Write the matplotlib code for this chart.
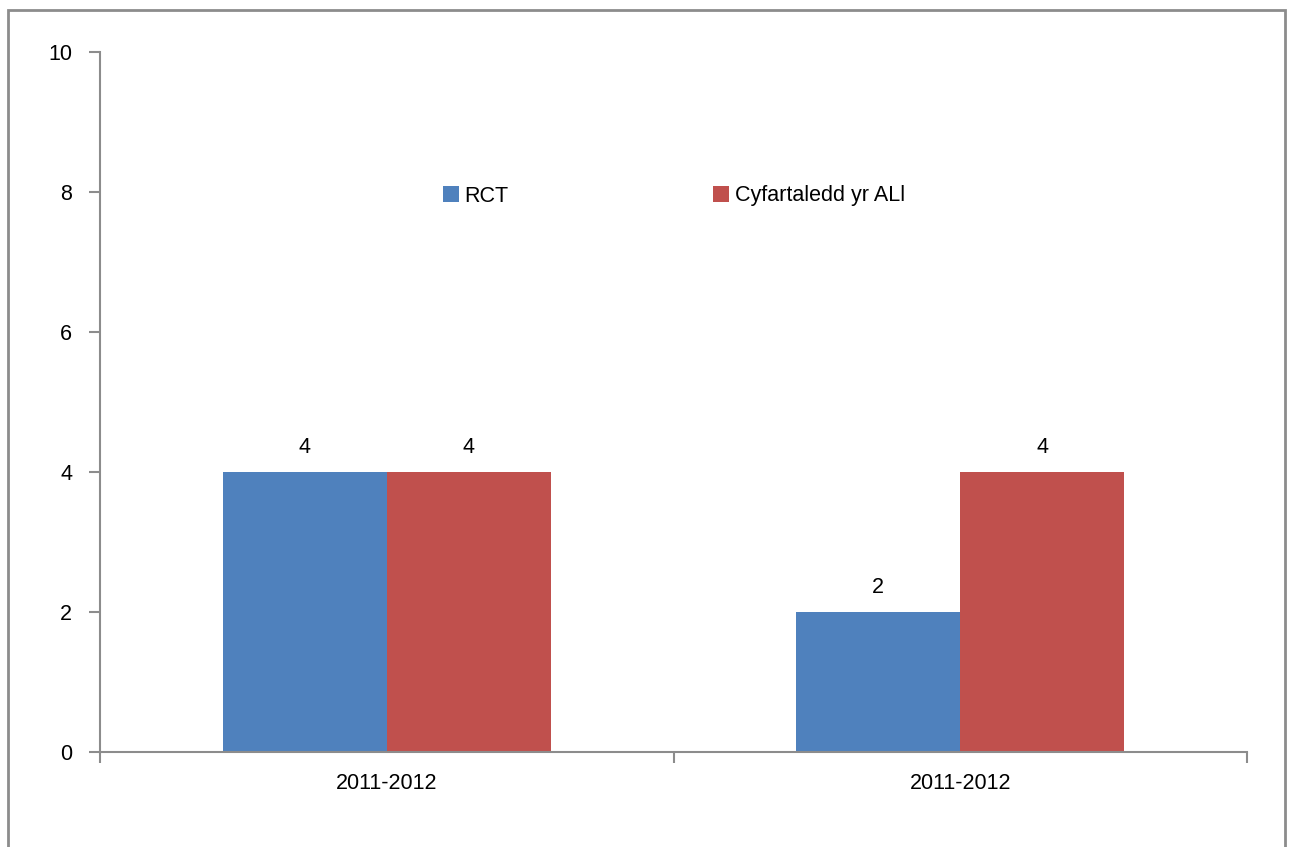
import matplotlib
matplotlib.use("Agg")
import matplotlib.pyplot as plt
from matplotlib.patches import Rectangle
import numpy as np

categories = ["2011-2012", "2011-2012"]
series_names = ["RCT", "Cyfartaledd yr ALl"]
rct = [4, 2]
ali = [4, 4]
colors = ["#4F81BD", "#C0504D"]
yticks = [0, 2, 4, 6, 8, 10]

W, H = 1292, 847
plt.rcParams['font.family'] = ['Liberation Sans', 'DejaVu Sans']
fig = plt.figure(figsize=(W / 100, H / 100), dpi=100)
FS = 15.5

# outer chart border
fig.patches.append(Rectangle((8 / W, -0.1), (1285 - 8) / W, 1.1 - 10 / H,
                             transform=fig.transFigure, fill=False,
                             edgecolor="#8c8c8c", linewidth=2.0))

ax = fig.add_axes([100 / W, 1 - 752 / H, (1247 - 100) / W, (752 - 52) / H])
x = np.arange(len(categories))
bw = 0.286
b1 = ax.bar(x - bw / 2, rct, bw, color=colors[0], label=series_names[0])
b2 = ax.bar(x + bw / 2, ali, bw, color=colors[1], label=series_names[1])
for bars in (b1, b2):
    ax.bar_label(bars, padding=10, fontsize=FS)

ax.set_xlim(-0.5, 1.5)
ax.set_ylim(0, 10)
ax.set_yticks(yticks)
ax.set_xticks(x)
ax.set_xticklabels(categories, fontsize=FS)
ax.set_xticks([-0.5, 0.5, 1.5], minor=True)
ax.tick_params(axis='x', which='major', length=0, pad=15)
ax.tick_params(axis='x', which='minor', length=8, width=1.5, color="#8c8c8c", direction='out')
ax.tick_params(axis='y', length=8, width=1.5, color="#8c8c8c", direction='out', labelsize=FS, pad=12)
for s in ("top", "right"):
    ax.spines[s].set_visible(False)
for s in ("left", "bottom"):
    ax.spines[s].set_color("#8c8c8c")
    ax.spines[s].set_linewidth(1.5)

ax.legend(loc="center", bbox_to_anchor=((674 - 100) / (1247 - 100), (752 - 196) / (752 - 52)),
          ncol=2, frameon=False, fontsize=FS, handlelength=0.74, handleheight=0.74,
          handletextpad=0.28, columnspacing=9.5, borderpad=0)

fig.savefig("out.png", dpi=100)
